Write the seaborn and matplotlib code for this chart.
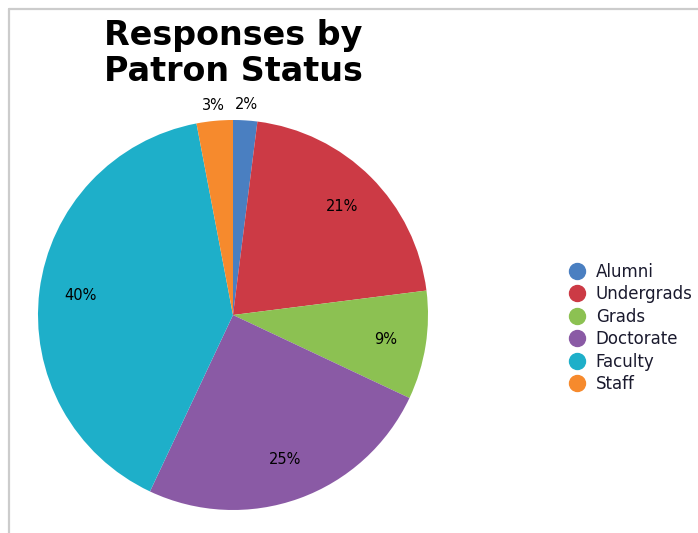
import matplotlib
matplotlib.use("Agg")
import matplotlib.pyplot as plt
from matplotlib.lines import Line2D
import seaborn as sns
import numpy as np

categories = ['Alumni', 'Undergrads', 'Grads', 'Doctorate', 'Faculty', 'Staff']
shares = [2, 21, 9, 25, 40, 3]
colors = ['#4a7fc1', '#cc3a45', '#8cc152', '#8a5aa5', '#1eafc9', '#f68a2d']
title_lines = ['Responses by', 'Patron Status']


def draw_frame(fig):
    w, h = fig.get_size_inches() * fig.dpi
    x0, y0 = 8.5 / w, 1 - 8.5 / h
    fig.add_artist(Line2D([x0, x0], [0, y0], transform=fig.transFigure, color='#cccccc', lw=1.6))
    fig.add_artist(Line2D([x0, 1], [y0, y0], transform=fig.transFigure, color='#cccccc', lw=1.6))


def pie_chart(fig):
    W, H = 698, 533
    cx, cy, r = 233, 315, 195
    ax = fig.add_axes([(cx - r) / W, (H - cy - r) / H, 2 * r / W, 2 * r / H])
    wedges, _ = ax.pie(shares, colors=colors, startangle=90, counterclock=False,
                       radius=1, wedgeprops=dict(linewidth=0))
    total = sum(shares)
    for w, v in zip(wedges, shares):
        mid = np.deg2rad((w.theta1 + w.theta2) / 2)
        dist = 0.79 if v / total >= 0.05 else 1.08
        ax.text(dist * np.cos(mid), dist * np.sin(mid), f'{v}%', ha='center', va='center',
                fontsize=10.5, color='black')
    ax.set_xlim(-1, 1)
    ax.set_ylim(-1, 1)
    ax.axis('off')

    handles = [Line2D([], [], marker='o', linestyle='', markersize=11.5, color=c) for c in colors]
    leg = fig.legend(handles, categories, loc='center left', bbox_to_anchor=(560 / W, 1 - 328 / H),
                     frameon=False, handletextpad=0.55, labelspacing=0.27, fontsize=12,
                     handlelength=1.2, borderaxespad=0)
    for t in leg.get_texts():
        t.set_color('#1a1a2e')

    fig.text(cx / W, 1 - 19 / H, '\n'.join(title_lines), ha='center', va='top',
             fontsize=24, fontweight='bold', linespacing=1.1, color='black')


if __name__ == '__main__':
    sns.set_style('white')
    plt.rcParams['font.family'] = ['DejaVu Sans']
    fig = plt.figure(figsize=(6.98, 5.33), dpi=100)
    draw_frame(fig)
    pie_chart(fig)
    fig.savefig('out.png', dpi=100)
